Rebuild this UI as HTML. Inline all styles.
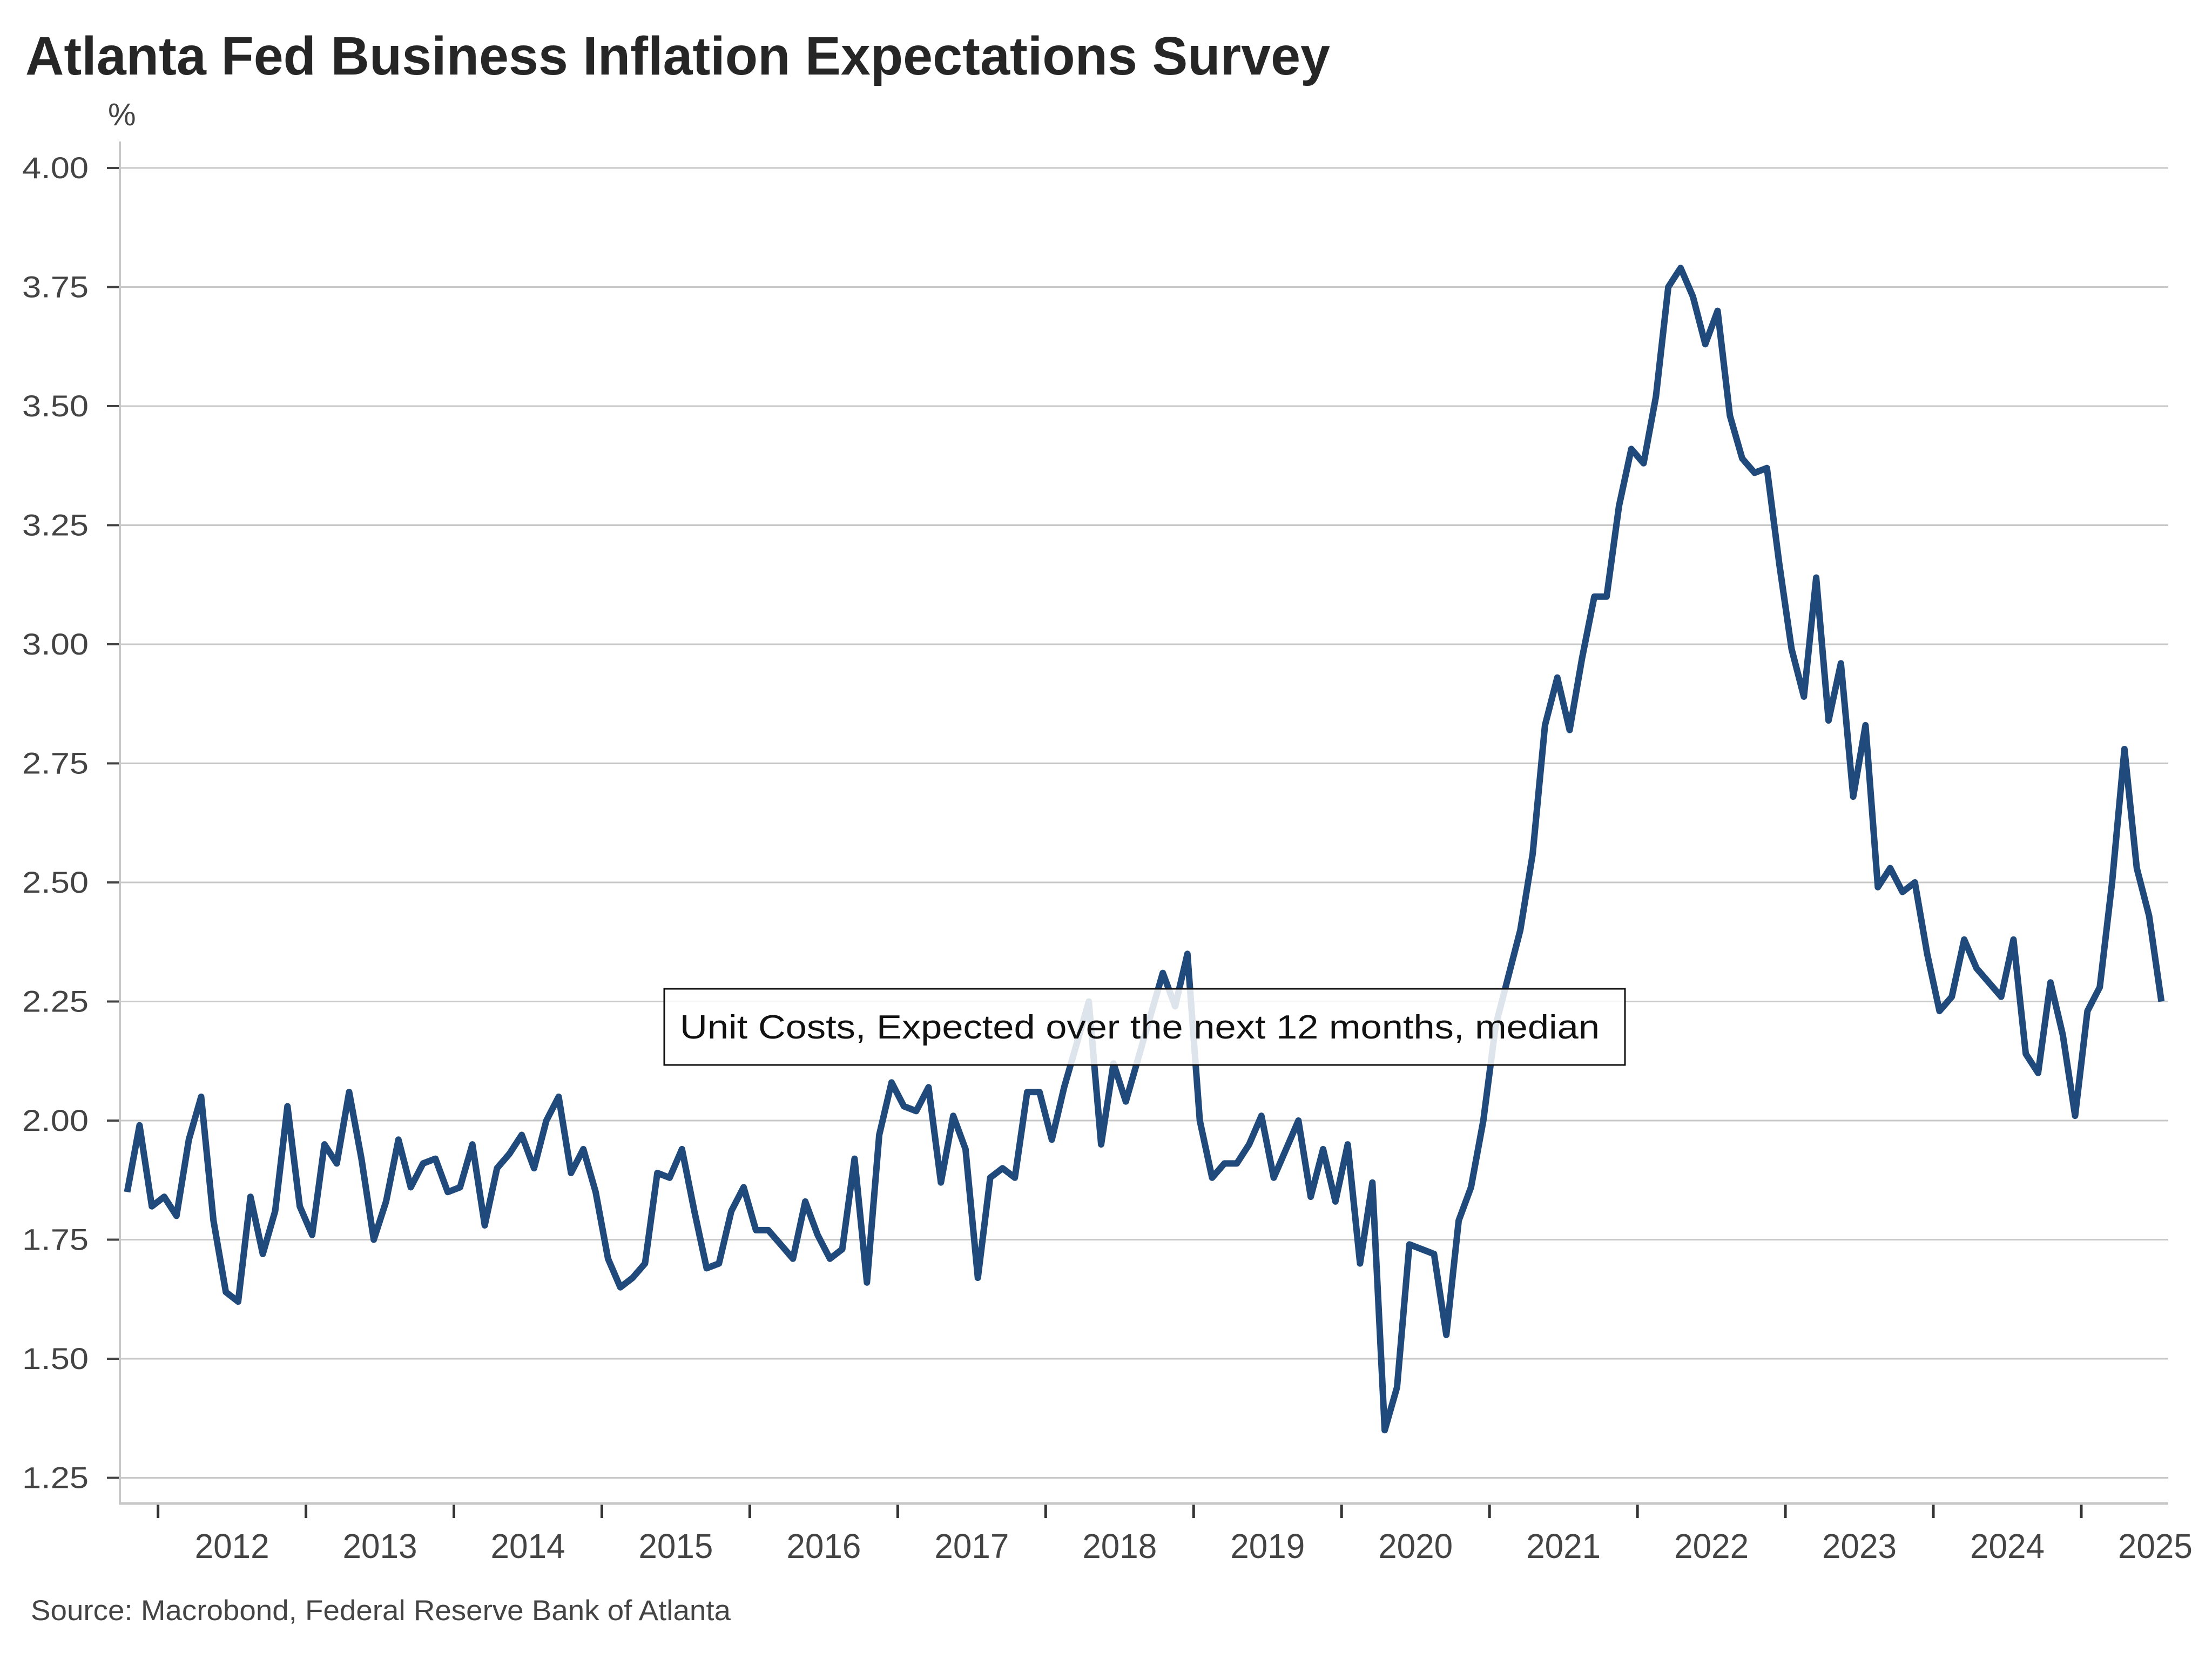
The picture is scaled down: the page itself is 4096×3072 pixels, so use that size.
<!DOCTYPE html>
<html>
<head>
<meta charset="utf-8">
<style>
html,body{margin:0;padding:0;background:#fff;}
svg{display:block;}
text{font-family:"Liberation Sans",sans-serif;}
</style>
</head>
<body>
<svg id="chart" width="4096" height="3072" viewBox="0 0 4096 3072" xmlns="http://www.w3.org/2000/svg">
  <rect x="0" y="0" width="4096" height="3072" fill="#ffffff"/>
  <text x="47" y="138" font-size="100" font-weight="bold" fill="#262626" textLength="2416" lengthAdjust="spacingAndGlyphs">Atlanta Fed Business Inflation Expectations Survey</text>
  <text x="200" y="232" font-size="58" fill="#444">%</text>
  <g id="grid"></g>
  <g id="yticks"></g>
  <g id="xticks"></g>
  <line x1="222" y1="262" x2="222" y2="2784" stroke="#c8c8c8" stroke-width="4"/>
  <line x1="220" y1="2784" x2="4015" y2="2784" stroke="#c8c8c8" stroke-width="5"/>
  <g id="series"></g>
  <g>
    <rect x="1230" y="1831" width="1779" height="141" fill="#ffffff" fill-opacity="0.85" stroke="#111" stroke-width="3"/>
    <text x="1259" y="1923" font-size="62" fill="#111" textLength="1703" lengthAdjust="spacingAndGlyphs">Unit Costs, Expected over the next 12 months, median</text>
  </g>
  <text x="57" y="3000" font-size="53" fill="#444" textLength="1296" lengthAdjust="spacingAndGlyphs">Source: Macrobond, Federal Reserve Bank of Atlanta</text>
</svg>
<script>
const yTickValues = [1.25, 1.50, 1.75, 2.00, 2.25, 2.50, 2.75, 3.00, 3.25, 3.50, 3.75, 4.00];
const yearLabels = [2012, 2013, 2014, 2015, 2016, 2017, 2018, 2019, 2020, 2021, 2022, 2023, 2024, 2025];
const seriesStart = 2011 + 9.5 / 12; // Oct 2011, monthly
const unitCosts = [
1.85,1.99,1.82,1.84,1.80,1.96,2.05,1.79,1.64,1.62,
1.84,1.72,1.81,2.03,1.82,1.76,1.95,1.91,2.06,1.92,
1.75,1.83,1.96,1.86,1.91,1.92,1.85,1.86,1.95,1.78,
1.90,1.93,1.97,1.90,2.00,2.05,1.89,1.94,1.85,1.71,
1.65,1.67,1.70,1.89,1.88,1.94,1.81,1.69,1.70,1.81,
1.86,1.77,1.77,1.74,1.71,1.83,1.76,1.71,1.73,1.92,
1.66,1.97,2.08,2.03,2.02,2.07,1.87,2.01,1.94,1.67,
1.88,1.90,1.88,2.06,2.06,1.96,
2.07,2.16,2.25,1.95,2.12,2.04,2.13,2.22,2.31,2.24,
2.35,2.00,1.88,1.91,1.91,1.95,2.01,1.88,1.94,2.00,
1.84,1.94,1.83,1.95,1.70,1.87,1.35,1.44,1.74,1.73,
1.72,1.55,
1.79,1.86,2.00,2.20,2.30,2.40,2.56,2.83,2.93,2.82,2.97,
3.10,3.10,3.29,3.41,3.38,3.52,3.75,3.79,3.73,3.63,
3.70,3.48,3.39,3.36,3.37,3.17,2.99,2.89,3.14,2.84,
2.96,2.68,2.83,2.49,2.53,2.48,2.50,2.35,2.23,2.26,
2.38,2.32,2.29,2.26,2.38,2.14,2.10,2.29,2.18,2.01,
2.23,2.28,2.50,2.78,2.53,2.43,2.25
];

const NS = "http://www.w3.org/2000/svg";
function yScale(v){ return 311 + (4.0 - v) / 0.25 * 220.5; }
function xScale(t){ return 292.6 + (t - 2012) * 273.95; }
function mk(tag, attrs, parent){
  const el = document.createElementNS(NS, tag);
  for (const k in attrs) el.setAttribute(k, attrs[k]);
  parent.appendChild(el);
  return el;
}

const grid = document.getElementById('grid');
const yticks = document.getElementById('yticks');
yTickValues.forEach(v => {
  const y = yScale(v);
  const gl = mk('line', {x1:224, y1:y, x2:4015, y2:y, stroke:'#c8c8c8', 'stroke-width':3}, grid);
  
  
  const tk = mk('line', {x1:198, y1:y, x2:221, y2:y, stroke:'#444', 'stroke-width':4}, yticks);
  
  
  const tx = mk('text', {x:164, y:y+19, 'font-size':56, fill:'#444', 'text-anchor':'end', textLength:123, lengthAdjust:'spacingAndGlyphs'}, yticks);
  tx.textContent = v.toFixed(2);
  
  
});

const xticks = document.getElementById('xticks');
yearLabels.forEach(yr => {
  const x = xScale(yr);
  const tk = mk('line', {x1:x, y1:2785, x2:x, y2:2811, stroke:'#333', 'stroke-width':5}, xticks);
  
  
  const tx = mk('text', {x:xScale(yr + 0.5), y:2885, 'font-size':64, fill:'#444', 'text-anchor':'middle', textLength:138, lengthAdjust:'spacingAndGlyphs'}, xticks);
  tx.textContent = String(yr);
  
  
});

const series = document.getElementById('series');
const pts = unitCosts.map((v, i) => xScale(seriesStart + i / 12).toFixed(1) + ',' + yScale(v).toFixed(1)).join(' ');
const line = mk('polyline', {points:pts, fill:'none', stroke:'#214a7c', 'stroke-width':12, 'stroke-linejoin':'round', 'stroke-linecap':'butt'}, series);


</script>
</body>
</html>
